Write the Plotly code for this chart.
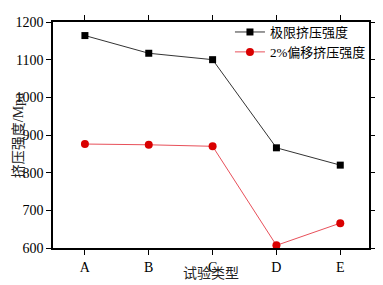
import plotly.graph_objects as go

categories = ["A", "B", "C", "D", "E"]
ultimate = [1164, 1117, 1100, 866, 820]
offset2 = [876, 874, 870, 607, 666]
series_names = ["极限挤压强度", "2%偏移挤压强度"]

xs = list(range(len(categories)))
font_fam = "Liberation Serif, Noto Sans CJK SC, serif"
xr = [-0.5, 4.45]
yr = [600, 1200]

fig = go.Figure()
fig.add_trace(go.Scatter(x=xs, y=ultimate, mode="lines+markers", name=series_names[0],
                         line=dict(color="#333333", width=1),
                         marker=dict(symbol="square", size=7, color="black")))
fig.add_trace(go.Scatter(x=xs, y=offset2, mode="lines+markers", name=series_names[1],
                         line=dict(color="#e8505a", width=1),
                         marker=dict(symbol="circle", size=8, color="#d90000")))

fig.update_layout(
    width=375, height=277,
    margin=dict(l=44, r=7, t=14, b=37),
    plot_bgcolor="white", paper_bgcolor="white",
    font=dict(family=font_fam, size=14, color="black"),
    xaxis=dict(showline=True, linecolor="black", linewidth=1.5, mirror="ticks", ticks="outside",
               ticklen=5, tickcolor="black", tickwidth=1, showgrid=False,
               range=xr, tickmode="array", tickvals=xs, ticktext=categories),
    yaxis=dict(showline=True, linecolor="black", linewidth=1.5, mirror="ticks", ticks="outside",
               ticklen=5, tickcolor="black", tickwidth=1, showgrid=False,
               ticklabeloverflow="allow", range=yr, dtick=100),
    legend=dict(x=0.56, y=1.022, xanchor="left", yanchor="top", bgcolor="rgba(0,0,0,0)",
                font=dict(family=font_fam, size=13, color="black")),
    annotations=[
        dict(text="试验类型", xref="paper", yref="paper", x=0.5, y=-0.115, yanchor="middle",
             showarrow=False, font=dict(family=font_fam, size=14, color="#222")),
        dict(text="挤压强度/Mpa", xref="paper", yref="paper", x=-0.11, y=0.5, textangle=-90,
             xanchor="center", yanchor="middle", showarrow=False,
             font=dict(family=font_fam, size=14, color="#222")),
    ],
)

fig.write_html("out.html")
